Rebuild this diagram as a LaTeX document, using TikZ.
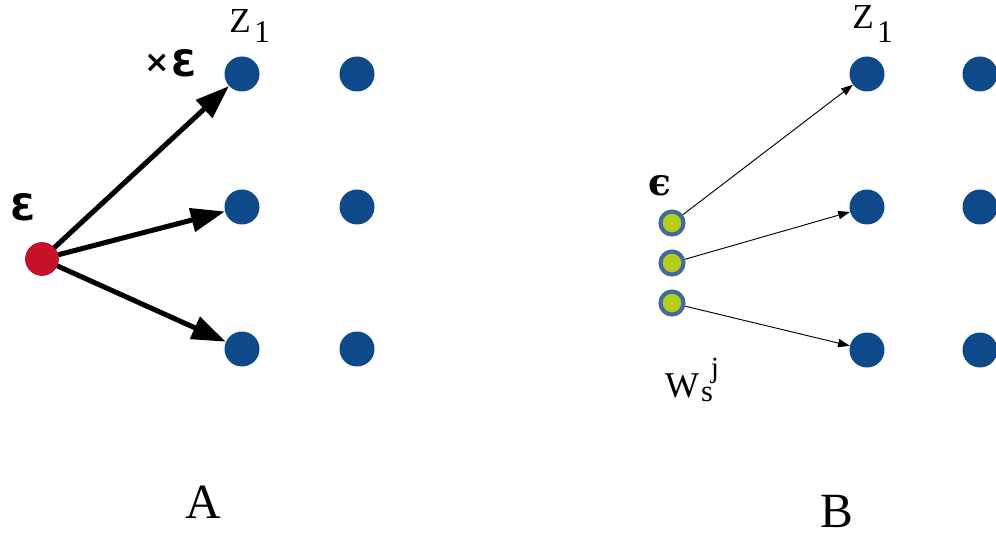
\documentclass[tikz,border=0pt]{standalone}
\usepackage{fontspec}
\setmainfont{Liberation Serif}
\newfontfamily\dvs{DejaVu Sans}
\newfontfamily\dvserif{DejaVu Serif}
\usetikzlibrary{arrows.meta}
\definecolor{dotblue}{RGB}{14,74,138}
\definecolor{dotred}{RGB}{200,16,40}
\definecolor{dotgreen}{RGB}{184,204,28}
\definecolor{ringblue}{RGB}{64,108,160}
\begin{document}
\begin{tikzpicture}[x=0.03cm,y=-0.03cm,
  bdot/.style={circle,fill=dotblue,minimum size=35*0.03cm,inner sep=0pt},
  rdot/.style={circle,fill=dotred,draw=dotred!80!black,line width=0.5pt,minimum size=33*0.03cm,inner sep=0pt},
  gdot/.style={circle,fill=dotgreen,draw=ringblue,line width=3.5pt,minimum size=23*0.03cm,inner sep=0pt},
  thickarrow/.style={line width=4.3pt,-{Triangle[length=29pt,width=20pt]}},
  thinarrow/.style={line width=0.8pt,-{Triangle[length=10pt,width=7pt]}},
  lbl/.style={inner sep=0pt,anchor=base}]
\useasboundingbox[fill=white] (0,0) rectangle (996,537);
% Panel A
\node[rdot] (r) at (42,259) {};
\node[bdot] (a11) at (242,74) {};
\node[bdot] (a12) at (357,74) {};
\node[bdot] (a21) at (242,207) {};
\node[bdot] (a22) at (357,207) {};
\node[bdot] (a31) at (242,349) {};
\node[bdot] (a32) at (357,349) {};
\draw[thickarrow] (r) -- (a11);
\draw[thickarrow] (r) -- (a21);
\draw[thickarrow] (r) -- (a31);
\node[lbl,font=\dvs\bfseries\fontsize{31}{31}\selectfont] (eA) at (23,221) {Ɛ};
\node[lbl,font=\dvs\bfseries\fontsize{26}{26}\selectfont] (xA) at (157,73) {×};
\node[lbl,font=\dvs\bfseries\fontsize{31}{31}\selectfont] (xeA) at (184,77) {Ɛ};
\node[lbl,font=\fontsize{30}{30}\selectfont] (zA) at (240,33) {Z};
\node[lbl,font=\fontsize{27}{27}\selectfont] (zA1) at (262,43) {1};
\node[lbl,font=\fontsize{42}{42}\selectfont] (labA) at (203,518) {A};
% Panel B
\node[bdot] (b11) at (867,74) {};
\node[bdot] (b12) at (980,74) {};
\node[bdot] (b21) at (867,207) {};
\node[bdot] (b22) at (980,207) {};
\node[bdot] (b31) at (867,350) {};
\node[bdot] (b32) at (980,350) {};
\node[gdot] (g1) at (672,223) {};
\node[gdot] (g2) at (672,263) {};
\node[gdot] (g3) at (672,303) {};
\draw[thinarrow] (g1) -- (b11);
\draw[thinarrow] (g2) -- (b21);
\draw[thinarrow] (g3) -- (b31);
\node[lbl,font=\dvserif\bfseries\fontsize{32}{32}\selectfont] (epsB) at (660,196) {ϵ};
\node[lbl,font=\fontsize{30}{30}\selectfont] (zB) at (863,29) {Z};
\node[lbl,font=\fontsize{27}{27}\selectfont] (zB1) at (885,43) {1};
\node[lbl,font=\fontsize{31}{31}\selectfont] (wB) at (682,397) {W};
\node[lbl,font=\fontsize{26}{26}\selectfont] (sB) at (707,401) {s};
\node[lbl,font=\fontsize{25}{25}\selectfont] (jB) at (715,377) {j};
\node[lbl,font=\fontsize{42}{42}\selectfont] (labB) at (837,527) {B};
\end{tikzpicture}
\end{document}
